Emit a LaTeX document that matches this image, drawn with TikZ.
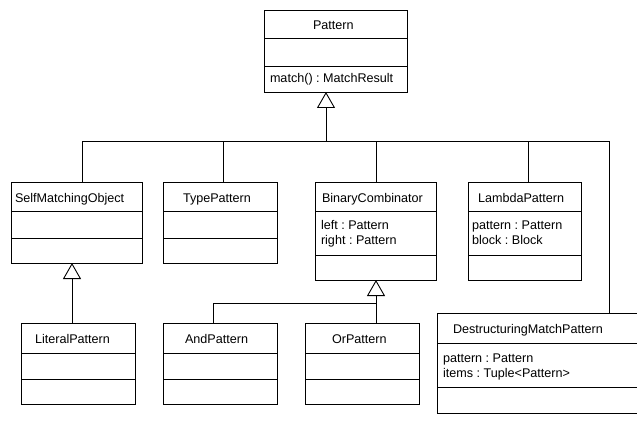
\documentclass[tikz,border=0pt]{standalone}
\usepackage{fontspec}
\setmainfont{Liberation Sans}
\frenchspacing
\usetikzlibrary{arrows.meta}
\newcommand\umlcompart[2]{\draw[clsline] (#1.west |- 0,#2) -- (#1.east |- 0,#2);}
\begin{document}
\begin{tikzpicture}[x=1pt,y=-1pt,
  cls/.style={draw=black, line width=0.8pt, rectangle, inner sep=0pt, outer sep=0pt, anchor=north west},
  clsline/.style={draw=black, line width=0.8pt},
  txt/.style={anchor=base west, inner sep=0pt, outer sep=0pt, font=\fontsize{12.6}{15}\selectfont\frenchspacing},
  conn/.style={draw=black, line width=0.9pt},
  inh/.style={conn, -{Triangle[open, width=18pt, length=16pt, line width=0.9pt]}}]
\useasboundingbox (0,0) rectangle (637,425);
% classes
\node[cls, minimum width=143pt, minimum height=82pt] (pat) at (264,10) {};
\umlcompart{pat}{38}\umlcompart{pat}{66}
\node[txt] (patn) at (313,30) {Pattern};
\node[txt] (patm) at (270,83) {match() : MatchResult};

\node[cls, minimum width=131pt, minimum height=81pt] (smo) at (11,182) {};
\umlcompart{smo}{211}\umlcompart{smo}{238}
\node[txt] (smon) at (15,202) {SelfMatchingObject};

\node[cls, minimum width=114pt, minimum height=81pt] (tp) at (163,182) {};
\umlcompart{tp}{211}\umlcompart{tp}{238}
\node[txt] (tpn) at (183,202) {TypePattern};

\node[cls, minimum width=121pt, minimum height=98pt] (bc) at (315,182) {};
\umlcompart{bc}{211}\umlcompart{bc}{255}
\node[txt] (bcn) at (322,202) {BinaryCombinator};
\node[txt] (bca) at (321,229) {left : Pattern};
\node[txt] (bcb) at (321,244) {right : Pattern};

\node[cls, minimum width=113pt, minimum height=98pt] (lp) at (468,182) {};
\umlcompart{lp}{211}\umlcompart{lp}{255}
\node[txt] (lpn) at (478,202) {LambdaPattern};
\node[txt] (lpa) at (472,229) {pattern : Pattern};
\node[txt] (lpb) at (472,244) {block : Block};

\node[cls, minimum width=114pt, minimum height=81pt] (lit) at (21,323) {};
\umlcompart{lit}{353}\umlcompart{lit}{379}
\node[txt] (litn) at (35,343) {LiteralPattern};

\node[cls, minimum width=114pt, minimum height=81pt] (and) at (163,323) {};
\umlcompart{and}{353}\umlcompart{and}{379}
\node[txt] (andn) at (185,343) {AndPattern};

\node[cls, minimum width=114pt, minimum height=81pt] (or) at (305,323) {};
\umlcompart{or}{353}\umlcompart{or}{379}
\node[txt] (orn) at (332,343) {OrPattern};

\node[cls, minimum width=208pt, minimum height=100pt] (dmp) at (437,313) {};
\umlcompart{dmp}{343}\umlcompart{dmp}{387}
\node[txt] (dmpn) at (453,333) {DestructuringMatchPattern};
\node[txt] (dmpa) at (443,362) {pattern : Pattern};
\node[txt] (dmpb) at (443,377) {items : Tuple<Pattern>};

% generalisations to Pattern
\coordinate (hub) at (326,141);
\draw[inh] (hub) -- (pat.south -| hub);
\draw[conn] ([xshift=5.5pt]smo.north) |- (hub);
\draw[conn] ([xshift=3pt]tp.north) |- (hub);
\draw[conn] ([xshift=0.5pt]bc.north) |- (hub);
\draw[conn] ([xshift=3.5pt]lp.north) |- (hub);
\draw[conn] ([xshift=68pt]dmp.north) |- (hub);

% LiteralPattern -> SelfMatchingObject
\draw[inh] ([xshift=-6pt]lit.north) -- ([xshift=-6pt]lit.north |- smo.south);

% And/Or -> BinaryCombinator
\coordinate (bchub) at (376,303);
\draw[inh] (bchub) -- (bc.south -| bchub);
\draw[conn] ([xshift=-7pt]and.north) |- (bchub);
\draw[conn] ([xshift=14pt]or.north) -- ([xshift=14pt]or.north |- bchub);
\end{tikzpicture}
\end{document}
